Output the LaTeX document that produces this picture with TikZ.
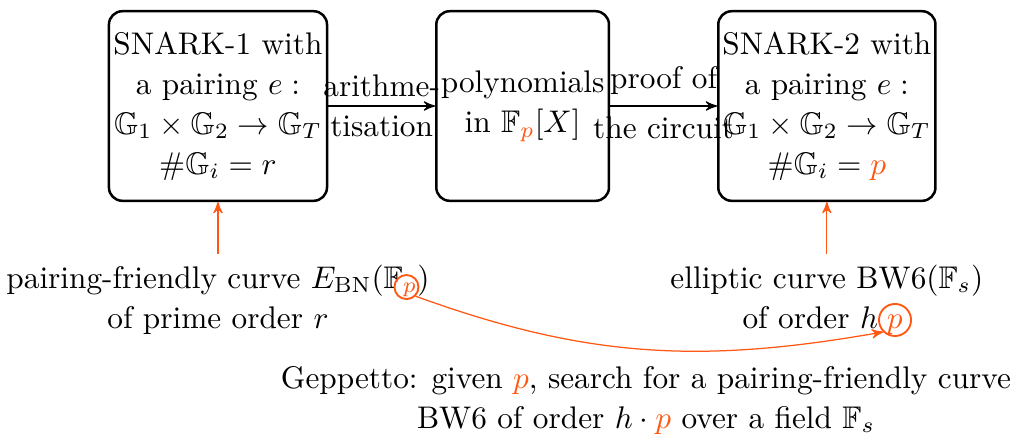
\documentclass[tikz,border=0pt]{standalone}
\usepackage{amssymb}
\usetikzlibrary{arrows,positioning}
\definecolor{porange}{RGB}{255,88,20}

\begin{document}
\begin{tikzpicture}[>=stealth']
        \tikzset{every node/.style={font=\fontsize{10pt}{12.8pt}\selectfont},
        block/.style= {draw, thick, rectangle, rounded corners=1.5mm, align=center, minimum height=2.13cm, inner sep=1pt},
        curve/.style={align=center},
        pmark/.style={draw=porange, semithick, circle, inner sep=0pt},
        }
        \useasboundingbox (-2.449,1.191) rectangle (8.91,-3.685);
        \node [block, minimum width=2.45cm] (snarkA) {SNARK-1 with\\a pairing $e:$\\$\mathbb{G}_1\times\mathbb{G}_2\to\mathbb{G}_T$\\$\#\mathbb{G}_i=r$};
        \node [block, minimum width=1.94cm, right=1.2cm of snarkA] (poly) {polynomials\\in $\mathbb{F}_{\color{porange}p}[X]$};
        \node [block, minimum width=2.44cm, right=1.2cm of poly] (snarkB) {SNARK-2 with\\a pairing $e:$\\$\mathbb{G}_1\times\mathbb{G}_2\to\mathbb{G}_T$\\$\#\mathbb{G}_i={\color{porange}p}$};
        \node [curve, below=0.58cm of snarkA] (bn) {pairing-friendly curve $E_{\mathrm{BN}}(\mathbb{F}_{\color{porange}p})$\\of prime order $r$};
        \node [curve, below=0.58cm of snarkB] (bw) {elliptic curve BW6$(\mathbb{F}_s)$\\of order $h\mkern5mu{\color{porange}p}\mkern5mu$};
        \node [pmark, minimum size=0.27cm] (pA) at (2.118,-2.034) {};  %% circle on the p of F_p
        \node [pmark, minimum size=0.36cm] (pB) at (7.607,-2.404) {};  %% circle on the p of h p
        \node [curve] (geppetto) at (4.809,-3.306) {Geppetto: given ${\color{porange}p}$, search for a pairing-friendly curve\\BW6 of order $h\cdot{\color{porange}p}$ over a field $\mathbb{F}_s$};

%% paths
        \path[draw,->] (snarkA) edge node[align=center] {arithme-\\tisation} (poly)
                    (poly) edge node[above] {proof of} node[below] {the circuit} (snarkB)
                    ;
        \path[draw,->,porange] (bn) edge (snarkA)
                    (bw) edge (snarkB)
                    ;
        \draw[->,porange] (pA.south east) to[out=-20,in=190] (pB.south west);
    \end{tikzpicture}
\end{document}
